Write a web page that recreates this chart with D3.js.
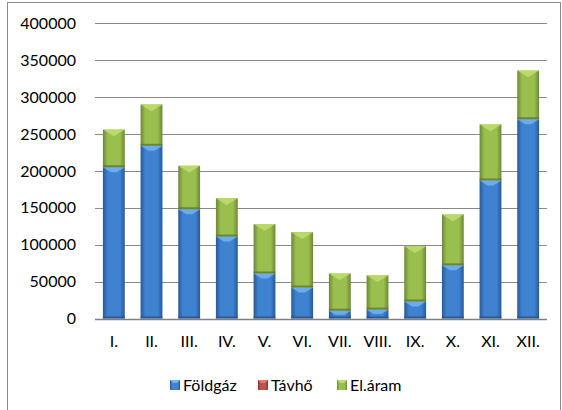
<!DOCTYPE html>
<html><head><meta charset="utf-8">
<script src="https://cdn.jsdelivr.net/npm/d3@7"></script>
<style>body{margin:0;background:#fff}svg{display:block}</style>
</head><body>
<script>
const categories = ["I.","II.","III.","IV.","V.","VI.","VII.","VIII.","IX.","X.","XI.","XII."];
const seriesNames = ["Földgáz","Távhő","El.áram"];
const foldgaz = [205000,234000,148000,111000,61000,42000,10500,12000,23000,72000,187000,270000];
const tavho   = [0,0,0,0,0,0,0,0,0,0,0,0];
const elaram  = [51000,56000,59000,52000,67000,75000,50500,46500,75000,69000,76000,66000];
const yTicks = [0,50000,100000,150000,200000,250000,300000,350000,400000];

const W = 562, H = 410;
const svg = d3.select("body").append("svg").attr("width", W).attr("height", H);
const defs = svg.append("defs");
const pal = [
  {edge:"#28599a", mid:"#3f82d0", top:"#72b4f2", bottom:"#23508a"},
  {edge:"#8e2b29", mid:"#c0504d", top:"#e07a78", bottom:"#7a2321"},
  {edge:"#6c8834", mid:"#9abf4e", top:"#bfdd6e", bottom:"#5f772d"}
];
pal.forEach((p,i)=>{
  const g = defs.append("linearGradient").attr("id","g"+i).attr("x1","0").attr("x2","1").attr("y1","0").attr("y2","0");
  g.append("stop").attr("offset","0").attr("stop-color",p.edge);
  g.append("stop").attr("offset","0.22").attr("stop-color",p.mid);
  g.append("stop").attr("offset","0.78").attr("stop-color",p.mid);
  g.append("stop").attr("offset","1").attr("stop-color",p.edge);
});

svg.append("rect").attr("x",7.5).attr("y",2.5).attr("width",553).attr("height",420)
  .attr("fill","none").attr("stroke","#8c8c8c").attr("stroke-width",1);

const x = d3.scaleBand().domain(categories).range([95,547]).paddingInner(0.42).paddingOuter(0.21);
const y = d3.scaleLinear().domain([0,400000]).range([318.5,23.3]);

const font = "Lato, 'Open Sans', sans-serif";
const fs = 16;

// gridlines
svg.append("g").selectAll("line").data(yTicks.filter(d=>d>0)).join("line")
  .attr("x1",95).attr("x2",547).attr("y1",d=>Math.round(y(d))+0.5).attr("y2",d=>Math.round(y(d))+0.5)
  .attr("stroke","#8a8a8a").attr("stroke-width",1);

// y axis labels
const yAxis = d3.axisLeft(y).tickValues(yTicks).tickSize(0).tickPadding(19).tickFormat(d3.format("d"));
const gy = svg.append("g").attr("transform","translate(95,0)").call(yAxis);
gy.select(".domain").remove();
gy.selectAll("text").attr("font-family",font).attr("font-size",fs).attr("fill","#000");

// stacked data
const data = categories.map((c,i)=>({cat:c, "Földgáz":foldgaz[i], "Távhő":tavho[i], "El.áram":elaram[i]}));
const stack = d3.stack().keys(seriesNames)(data);

const bw = x.bandwidth();
stack.forEach((layer,si)=>{
  const p = pal[si];
  const g = svg.append("g");
  layer.forEach(seg=>{
    const v0 = seg[0], v1 = seg[1];
    if (v1 - v0 <= 0) return;
    const x0 = x(seg.data.cat), y0 = y(v0), y1 = y(v1);
    const h = y0 - y1;
    g.append("rect").attr("x",x0).attr("y",y1).attr("width",bw).attr("height",h).attr("fill",`url(#g${si})`);
    const bev = Math.min(si===2?7:5, h/2);
    g.append("polygon")
      .attr("points",`${x0},${y1} ${x0+bw},${y1} ${x0+bw-bev*1.6},${y1+bev} ${x0+bev*1.6},${y1+bev}`)
      .attr("fill",p.top).attr("opacity",0.85);
    const bb = Math.min(2, h/4);
    g.append("rect").attr("x",x0).attr("y",y0-bb).attr("width",bw).attr("height",bb).attr("fill",p.bottom).attr("opacity",0.8);
  });
});

// zero line
svg.append("line").attr("x1",95).attr("x2",547).attr("y1",Math.round(y(0))+0.5).attr("y2",Math.round(y(0))+0.5)
  .attr("stroke","#808080").attr("stroke-width",1.5);

// x axis labels
const xAxis = d3.axisBottom(x).tickSize(0).tickPadding(17);
const gx = svg.append("g").attr("transform",`translate(0,${y(0)})`).call(xAxis);
gx.select(".domain").remove();
gx.selectAll("text").attr("font-family",font).attr("font-size",fs).attr("fill","#000");

// legend
const legX = [170, 258, 337];
const leg = svg.append("g");
seriesNames.forEach((n,i)=>{
  const p = pal[i];
  leg.append("rect").attr("x",legX[i]).attr("y",380).attr("width",10).attr("height",10).attr("fill",`url(#g${i})`);
  leg.append("polygon").attr("points",`${legX[i]},380 ${legX[i]+10},380 ${legX[i]+7},383 ${legX[i]+3},383`).attr("fill",p.top);
  leg.append("text").attr("x",legX[i]+13).attr("y",385.5).attr("dy","0.35em")
    .attr("font-family",font).attr("font-size",fs).attr("fill","#000").text(n);
});
</script>
</body></html>
